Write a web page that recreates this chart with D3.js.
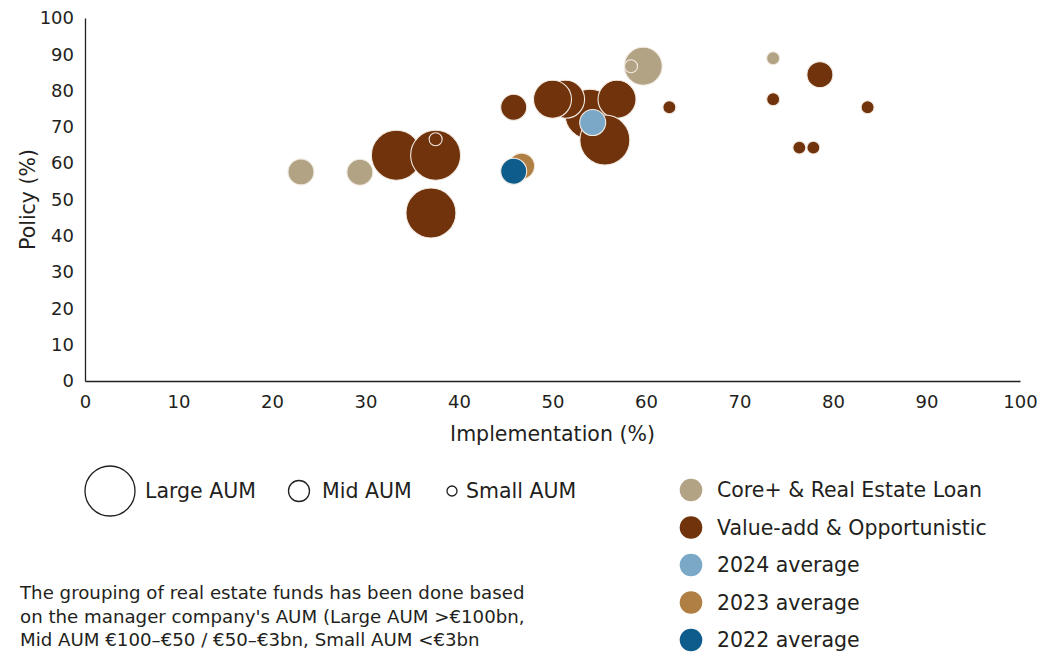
<!DOCTYPE html>
<html>
<head>
<meta charset="utf-8">
<script src="https://cdn.jsdelivr.net/npm/d3@7"></script>
<style>
  body { margin: 0; background: #fff; }
  text { font-family: "DejaVu Sans", sans-serif; fill: #231f20; }
</style>
</head>
<body>
<svg id="chart" width="1056" height="652"></svg>
<script>
// Core+ & Real Estate Loan funds
const coreImpl   = [23.1, 29.4, 59.7, 58.4, 73.6];
const corePolicy = [57.6, 57.5, 86.7, 86.7, 88.9];
const coreTier   = ["M2", "M2", "M1", "S", "S"];

// Value-add & Opportunistic funds
const valueImpl   = [33.3, 37.5, 37.5, 37.0, 45.85, 54.0, 51.4, 50.0, 56.9, 55.6, 62.5, 73.6, 78.6, 83.7, 76.4, 77.9];
const valuePolicy = [62.2, 62.2, 66.6, 46.3, 75.4, 73.5, 77.6, 77.6, 77.6, 66.4, 75.4, 77.6, 84.4, 75.4, 64.3, 64.3];
const valueTier   = ["L", "L", "S", "L", "M2", "L", "M1", "M1", "M1", "L", "S", "S", "M2", "S", "S", "S"];

// Yearly averages
const averageNames  = ["2023 average", "2022 average", "2024 average"];
const averageImpl   = [46.7, 45.85, 54.3];
const averagePolicy = [59.2, 57.8, 71.2];

// Legend entries
const groupNames = ["Core+ & Real Estate Loan", "Value-add & Opportunistic", "2024 average", "2023 average", "2022 average"];
const aumNames   = ["Large AUM", "Mid AUM", "Small AUM"];
const axisTicks  = d3.range(0, 101, 10);

const noteLines = [
  "The grouping of real estate funds has been done based",
  "on the manager company's AUM (Large AUM >\u20ac100bn,",
  "Mid AUM \u20ac100\u2013\u20ac50 / \u20ac50\u2013\u20ac3bn, Small AUM <\u20ac3bn"
];

const color = d3.scaleOrdinal()
  .domain(groupNames)
  .range(["#b3a385", "#70330c", "#7aa8c6", "#b07f43", "#0e5c8c"]);

const radius = d3.scaleOrdinal()
  .domain(["L", "M1", "M2", "S", "Avg"])
  .range([25, 19, 13, 6.5, 13]);

const svg = d3.select("#chart");

const x = d3.scaleLinear().domain([0, 100]).range([85, 1020]);
const y = d3.scaleLinear().domain([0, 100]).range([381, 18]);

// Axes
const xAxis = svg.append("g")
  .attr("transform", `translate(0,${y(0)})`)
  .call(d3.axisBottom(x).tickValues(axisTicks).tickSize(0).tickSizeOuter(0).tickPadding(14));
const yAxis = svg.append("g")
  .attr("transform", `translate(${x(0)},0)`)
  .call(d3.axisLeft(y).tickValues(axisTicks).tickSize(0).tickSizeOuter(0).tickPadding(11));

[xAxis, yAxis].forEach(g => {
  g.select(".domain").attr("stroke", "#231f20").attr("stroke-width", 1.3);
  g.selectAll("text").style("font-size", "18px").attr("fill", "#231f20")
    .style("font-family", "'DejaVu Sans', sans-serif");
});

svg.append("text")
  .attr("x", (x(0) + x(100)) / 2)
  .attr("y", 441)
  .attr("text-anchor", "middle")
  .style("font-size", "20.5px")
  .text("Implementation (%)");

svg.append("text")
  .attr("transform", `translate(35,${(y(0) + y(100)) / 2}) rotate(-90)`)
  .attr("text-anchor", "middle")
  .style("font-size", "20.5px")
  .text("Policy (%)");

// Bubbles
const funds = [
  ...coreImpl.map((v, i) => ({ impl: v, policy: corePolicy[i], tier: coreTier[i], group: groupNames[0] })),
  ...valueImpl.map((v, i) => ({ impl: v, policy: valuePolicy[i], tier: valueTier[i], group: groupNames[1] })),
  ...averageImpl.map((v, i) => ({ impl: v, policy: averagePolicy[i], tier: "Avg", group: averageNames[i] }))
];

svg.append("g")
  .selectAll("circle")
  .data(funds)
  .join("circle")
  .attr("cx", d => x(d.impl))
  .attr("cy", d => y(d.policy))
  .attr("r", d => radius(d.tier))
  .attr("fill", d => color(d.group))
  .attr("stroke", "#f2ebe3")
  .attr("stroke-width", 1.1);

// Size legend
const sizeLegend = [
  { name: aumNames[0], cx: 110, r: 25, tx: 145 },
  { name: aumNames[1], cx: 299, r: 10.5, tx: 322 },
  { name: aumNames[2], cx: 452, r: 5, tx: 466 }
];
const sl = svg.append("g");
sl.selectAll("circle").data(sizeLegend).join("circle")
  .attr("cx", d => d.cx).attr("cy", 491).attr("r", d => d.r)
  .attr("fill", "none").attr("stroke", "#231f20").attr("stroke-width", 1.3);
sl.selectAll("text").data(sizeLegend).join("text")
  .attr("x", d => d.tx).attr("y", 491).attr("dy", "0.35em")
  .style("font-size", "20.5px")
  .text(d => d.name);

// Colour legend
const cl = svg.append("g");
cl.selectAll("circle").data(groupNames).join("circle")
  .attr("cx", 691).attr("cy", (d, i) => 490 + i * 37.5).attr("r", 11.3)
  .attr("fill", d => color(d));
cl.selectAll("text").data(groupNames).join("text")
  .attr("x", 717).attr("y", (d, i) => 490 + i * 37.5).attr("dy", "0.35em")
  .style("font-size", "20.5px")
  .text(d => d);

// Note
svg.append("g").selectAll("text").data(noteLines).join("text")
  .attr("x", 20).attr("y", (d, i) => 599 + i * 23.5)
  .style("font-size", "18.2px")
  .text(d => d);
</script>
</body>
</html>
